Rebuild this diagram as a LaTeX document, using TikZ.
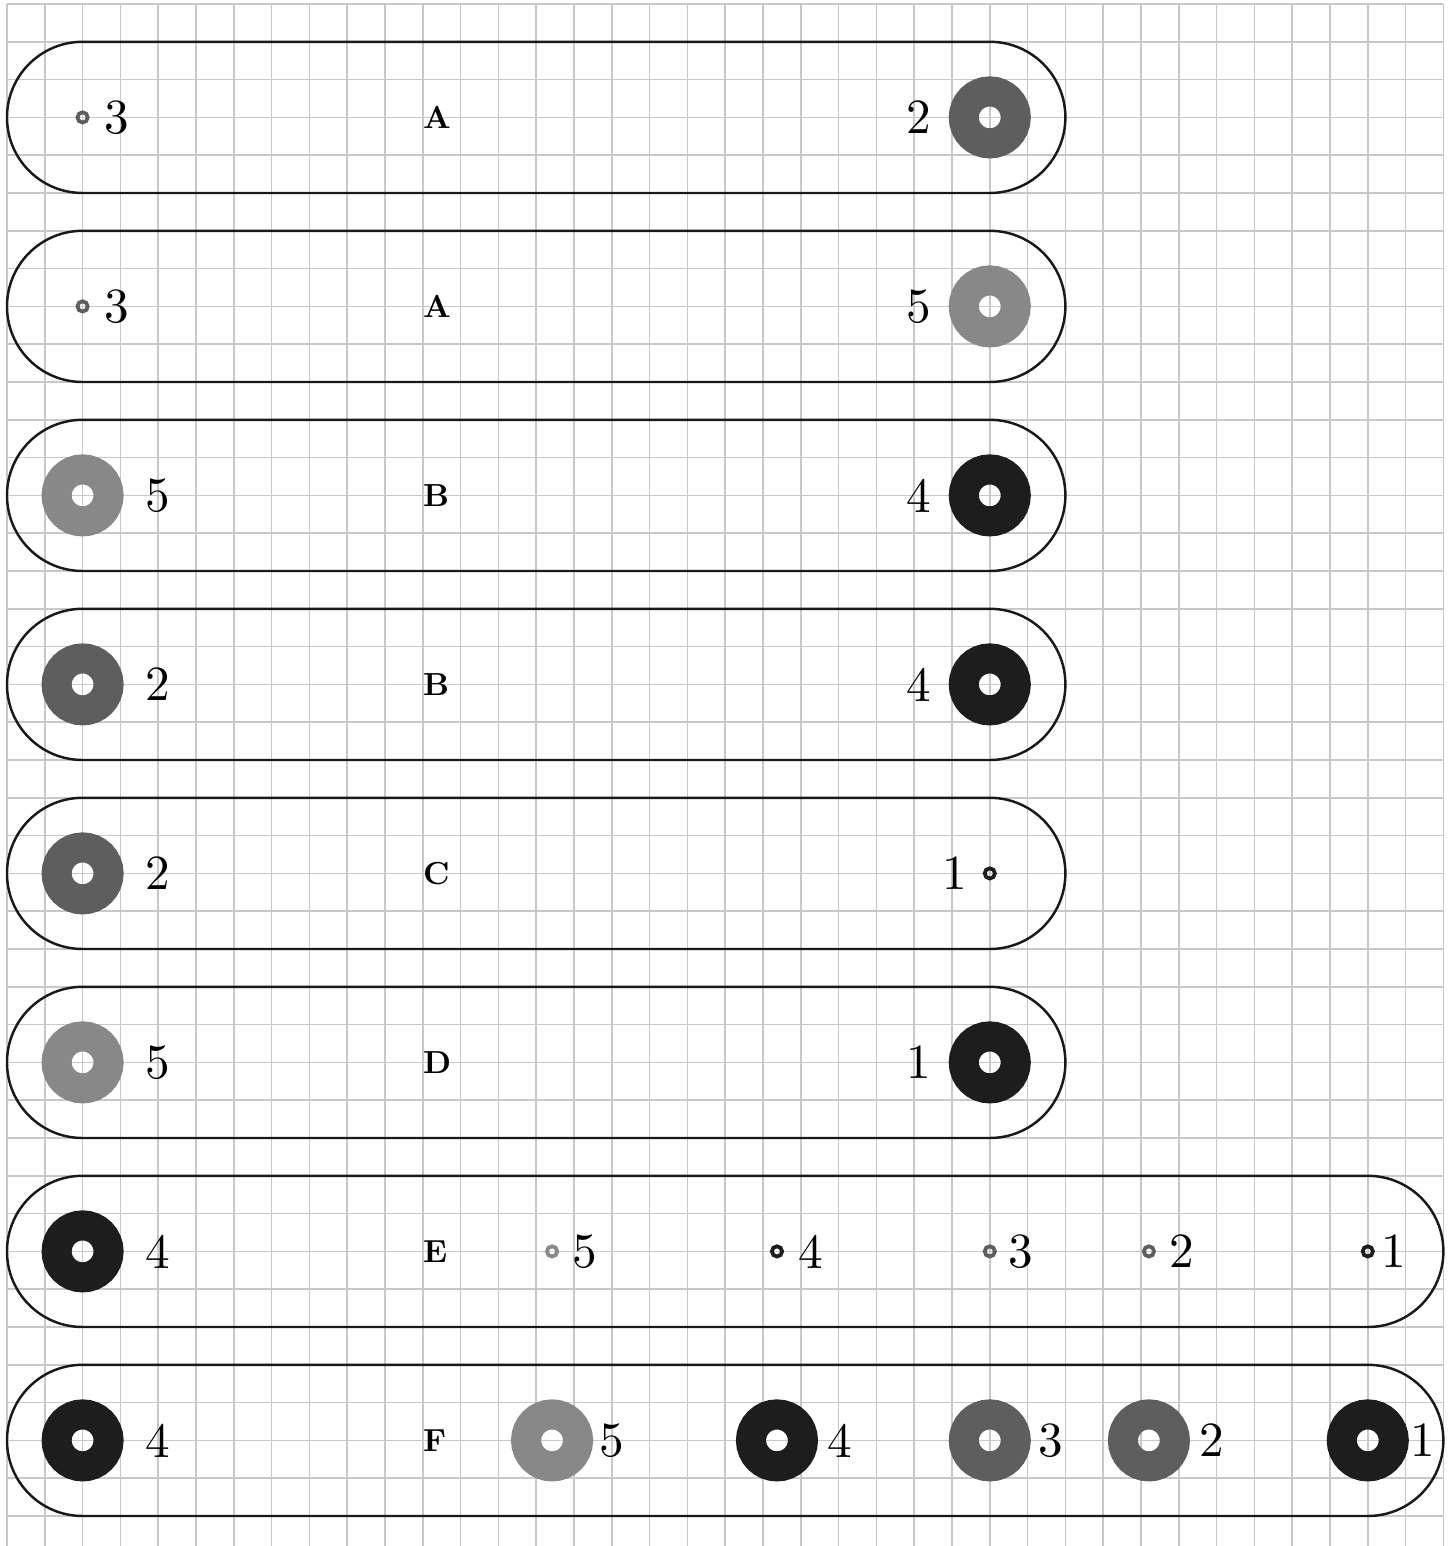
\documentclass[tikz,border=0pt]{standalone}
\usepackage{graphicx}
\definecolor{gridc}{HTML}{C8C8C8}
\definecolor{cdark}{HTML}{5E5E5E}
\definecolor{clight}{HTML}{888888}
\definecolor{cblack}{HTML}{1D1D1D}
\newcommand{\bignum}[1]{\scalebox{3.7}{\fontsize{10}{12}\selectfont #1}}
\newcommand{\bigletter}[1]{\scalebox{2.4}{\fontsize{10}{12}\selectfont\bfseries #1}}
\begin{document}
\begin{tikzpicture}[
 gridline/.style={draw=gridc, line width=0.04cm},
 stadium/.style={draw=black!90, line width=0.065cm, rectangle, rounded corners=2cm, minimum height=4cm, inner sep=0pt},
 donut/.style={circle, draw=#1, line width=0.795cm, minimum size=1.375cm, inner sep=0pt},
 ring/.style={circle, draw=#1, line width=0.1cm, minimum size=0.27cm, inner sep=0pt},
 num/.style={inner sep=0pt},
 letter/.style={inner sep=0pt, anchor=west},
]
\fill[white] (-0.185,0.106) rectangle (38.305,-40.794);
\useasboundingbox (-0.185,0.106) rectangle (38.305,-40.794);
\draw[gridline] (0,-40.794) grid (38,0);

% row 1
\node[stadium, minimum width=28cm] (s1) at (14,-3) {};
\node[ring=cdark] (r1a) at (2,-3) {};
\node[num] (r1al) at (2.91,-3) {\bignum{3}};
\node[letter] (r1t) at (11,-3) {\bigletter{A}};
\node[num] (r1bl) at (24.13,-3) {\bignum{2}};
\node[donut=cdark] (r1b) at (26,-3) {};
% row 2
\node[stadium, minimum width=28cm] (s2) at (14,-8) {};
\node[ring=cdark] (r2a) at (2,-8) {};
\node[num] (r2al) at (2.91,-8) {\bignum{3}};
\node[letter] (r2t) at (11,-8) {\bigletter{A}};
\node[num] (r2bl) at (24.13,-8) {\bignum{5}};
\node[donut=clight] (r2b) at (26,-8) {};
% row 3
\node[stadium, minimum width=28cm] (s3) at (14,-13) {};
\node[donut=clight] (r3a) at (2,-13) {};
\node[num] (r3al) at (4,-13) {\bignum{5}};
\node[letter] (r3t) at (11,-13) {\bigletter{B}};
\node[num] (r3bl) at (24.13,-13) {\bignum{4}};
\node[donut=cblack] (r3b) at (26,-13) {};
% row 4
\node[stadium, minimum width=28cm] (s4) at (14,-18) {};
\node[donut=cdark] (r4a) at (2,-18) {};
\node[num] (r4al) at (4,-18) {\bignum{2}};
\node[letter] (r4t) at (11,-18) {\bigletter{B}};
\node[num] (r4bl) at (24.13,-18) {\bignum{4}};
\node[donut=cblack] (r4b) at (26,-18) {};
% row 5
\node[stadium, minimum width=28cm] (s5) at (14,-23) {};
\node[donut=cdark] (r5a) at (2,-23) {};
\node[num] (r5al) at (4,-23) {\bignum{2}};
\node[letter] (r5t) at (11,-23) {\bigletter{C}};
\node[num] (r5bl) at (25.08,-23) {\bignum{1}};
\node[ring=cblack] (r5b) at (26,-23) {};
% row 6
\node[stadium, minimum width=28cm] (s6) at (14,-28) {};
\node[donut=clight] (r6a) at (2,-28) {};
\node[num] (r6al) at (4,-28) {\bignum{5}};
\node[letter] (r6t) at (11,-28) {\bigletter{D}};
\node[num] (r6bl) at (24.13,-28) {\bignum{1}};
\node[donut=cblack] (r6b) at (26,-28) {};
% row 7
\node[stadium, minimum width=38cm] (s7) at (19,-33) {};
\node[donut=cblack] (r7a) at (2,-33) {};
\node[num] (r7al) at (4,-33) {\bignum{4}};
\node[letter] (r7t) at (11,-33) {\bigletter{E}};
\node[ring=clight] (r7b) at (14.42,-33) {};
\node[num] (r7bl) at (15.29,-33) {\bignum{5}};
\node[ring=cblack] (r7c) at (20.37,-33) {};
\node[num] (r7cl) at (21.27,-33) {\bignum{4}};
\node[ring=cdark] (r7d) at (26,-33) {};
\node[num] (r7dl) at (26.83,-33) {\bignum{3}};
\node[ring=cdark] (r7e) at (30.21,-33) {};
\node[num] (r7el) at (31.08,-33) {\bignum{2}};
\node[ring=cblack] (r7f) at (36,-33) {};
\node[num] (r7fl) at (36.69,-33) {\bignum{1}};
% row 8
\node[stadium, minimum width=38cm] (s8) at (19,-38) {};
\node[donut=cblack] (r8a) at (2,-38) {};
\node[num] (r8al) at (4,-38) {\bignum{4}};
\node[letter] (r8t) at (11,-38) {\bigletter{F}};
\node[donut=clight] (r8b) at (14.42,-38) {};
\node[num] (r8bl) at (16.0,-38) {\bignum{5}};
\node[donut=cblack] (r8c) at (20.37,-38) {};
\node[num] (r8cl) at (22.04,-38) {\bignum{4}};
\node[donut=cdark] (r8d) at (26,-38) {};
\node[num] (r8dl) at (27.62,-38) {\bignum{3}};
\node[donut=cdark] (r8e) at (30.21,-38) {};
\node[num] (r8el) at (31.88,-38) {\bignum{2}};
\node[donut=cblack] (r8f) at (36,-38) {};
\node[num] (r8fl) at (37.46,-38) {\bignum{1}};
\end{tikzpicture}
\end{document}
